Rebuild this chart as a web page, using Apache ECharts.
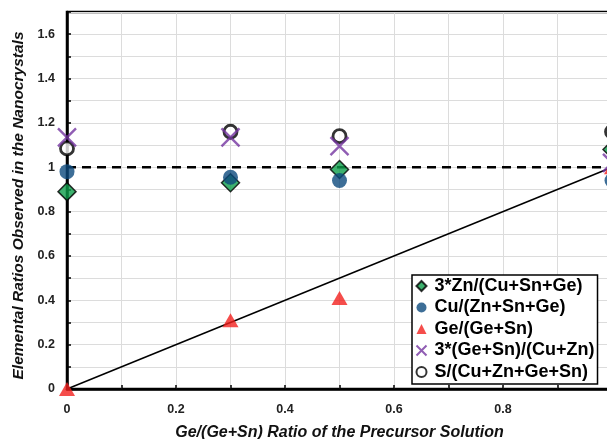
<!DOCTYPE html>
<html>
<head>
<meta charset="utf-8">
<script src="https://cdn.jsdelivr.net/npm/echarts@6/dist/echarts.min.js"></script>
<style>
  html, body { margin: 0; padding: 0; background: #fff; overflow: hidden; }
  #chart { width: 620px; height: 439px; }
</style>
</head>
<body>
<div id="chart"></div>
<script>
  // precursor Ge/(Ge+Sn) ratios
  const xValues = [0, 0.3, 0.5, 1];

  const znRatio = [0.89, 0.93, 0.99, 1.08];      // 3*Zn/(Cu+Sn+Ge)
  const cuRatio = [0.98, 0.955, 0.94, 0.94];     // Cu/(Zn+Sn+Ge)
  const geRatio = [0, 0.31, 0.41, 1.0];          // Ge/(Ge+Sn)
  const geSnRatio = [1.135, 1.135, 1.095, 1.02]; // 3*(Ge+Sn)/(Cu+Zn)
  const sRatio = [1.085, 1.16, 1.14, 1.16];      // S/(Cu+Zn+Ge+Sn)

  const seriesNames = [
    "3*Zn/(Cu+Sn+Ge)",
    "Cu/(Zn+Sn+Ge)",
    "Ge/(Ge+Sn)",
    "3*(Ge+Sn)/(Cu+Zn)",
    "S/(Cu+Zn+Ge+Sn)"
  ];

  const idealLine = [[0, 0], [1, 1]];
  const unityLine = [[0, 1], [1, 1]];

  const pairs = ys => xValues.map((x, i) => [x, ys[i]]);
  const font = "Liberation Sans, Arial, sans-serif";
  const crossPath = "path://M0,0L10,10M10,0L0,10";

  const chart = echarts.init(document.getElementById("chart"));

  const option = {
    animation: false,
    grid: {
      left: 67,
      right: 8,
      top: 12,
      bottom: 50,
      containLabel: false,
      outerBoundsMode: "none",
      show: true,
      borderColor: "#000",
      borderWidth: 2.5
    },
    xAxis: {
      type: "value",
      min: 0,
      max: 1,
      interval: 0.1,
      name: "Ge/(Ge+Sn) Ratio of the Precursor Solution",
      nameLocation: "middle",
      nameGap: 36,
      nameTextStyle: {
        fontFamily: font, fontWeight: "bold", fontStyle: "italic",
        fontSize: 16, color: "#111"
      },
      axisLine: { lineStyle: { color: "#000", width: 2.5 } },
      axisTick: { inside: true, length: 4, lineStyle: { color: "#000", width: 1.5 } },
      axisLabel: {
        fontFamily: font, fontWeight: "bold", fontSize: 12.5, color: "#222", margin: 14,
        formatter: v => (Math.round(v * 10) % 2 === 0 && v < 0.95) ? String(+v.toFixed(1)) : ""
      },
      splitLine: { show: true, lineStyle: { color: "#dcdcdc", width: 1 } }
    },
    yAxis: {
      type: "value",
      min: 0,
      max: 1.7,
      interval: 0.1,
      name: "Elemental Ratios Observed in the Nanocrystals",
      nameLocation: "middle",
      nameGap: 38,
      nameTextStyle: {
        fontFamily: font, fontWeight: "bold", fontStyle: "italic",
        fontSize: 15.5, color: "#111", padding: [0, 10, 0, 0]
      },
      axisLine: { lineStyle: { color: "#000", width: 2.5 } },
      axisTick: { inside: true, length: 4, lineStyle: { color: "#000", width: 1.5 } },
      axisLabel: {
        fontFamily: font, fontWeight: "bold", fontSize: 12.5, color: "#222", margin: 12,
        formatter: v => (Math.round(v * 10) % 2 === 0 && v < 1.65) ? String(+v.toFixed(1)) : ""
      },
      splitLine: { show: true, lineStyle: { color: "#dcdcdc", width: 1 } }
    },
    legend: {
      orient: "vertical",
      left: 412,
      top: 275,
      padding: [2, 3, 3, 2],
      itemGap: 3.5,
      itemWidth: 10,
      itemHeight: 10,
      backgroundColor: "#fff",
      borderColor: "#000",
      borderWidth: 1.5,
      textStyle: {
        fontFamily: font, fontWeight: "bold", fontSize: 18, lineHeight: 18,
        color: "#000", padding: [0, 0, 0, 3]
      },
      data: seriesNames
    },
    series: [
      {
        type: "line",
        data: idealLine,
        showSymbol: false,
        symbol: "none",
        lineStyle: { color: "#000", width: 1.5 },
        z: 1
      },
      {
        type: "line",
        data: unityLine,
        showSymbol: false,
        symbol: "none",
        lineStyle: { color: "#000", width: 2.5, type: [9, 6] },
        z: 1
      },
      {
        name: seriesNames[4],
        type: "scatter",
        data: pairs(sRatio),
        symbol: "circle",
        symbolSize: 13,
        itemStyle: { color: "#fff", borderColor: "#000", borderWidth: 2.8 },
        z: 3
      },
      {
        name: seriesNames[3],
        type: "scatter",
        data: pairs(geSnRatio),
        symbol: crossPath,
        symbolSize: 18,
        itemStyle: { color: "none", borderColor: "#7435a0", borderWidth: 2.4 },
        z: 4
      },
      {
        name: seriesNames[2],
        type: "scatter",
        data: pairs(geRatio),
        symbol: "triangle",
        symbolSize: [16, 14],
        itemStyle: { color: "#f2201e" },
        z: 4
      },
      {
        name: seriesNames[0],
        type: "scatter",
        data: pairs(znRatio),
        symbol: "diamond",
        symbolSize: 18,
        itemStyle: { color: "#0c9e4a", borderColor: "#000", borderWidth: 1.5 },
        z: 5
      },
      {
        name: seriesNames[1],
        type: "scatter",
        data: pairs(cuRatio),
        symbol: "circle",
        symbolSize: 15,
        itemStyle: { color: "#0d4a7d" },
        z: 6
      }
    ]
  };

  chart.setOption(option);
</script>
</body>
</html>
